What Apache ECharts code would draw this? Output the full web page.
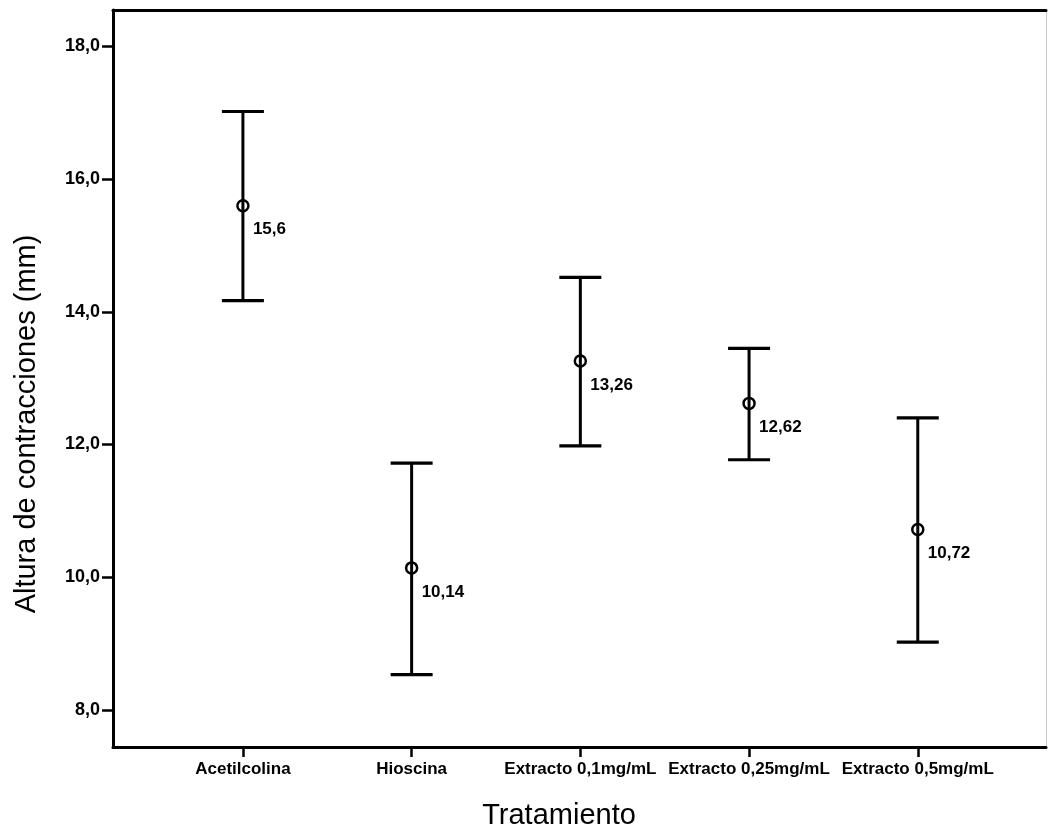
<!DOCTYPE html>
<html>
<head>
<meta charset="utf-8">
<script src="https://cdn.jsdelivr.net/npm/echarts@6/dist/echarts.min.js"></script>
<style>
  html, body { margin: 0; padding: 0; background: #ffffff; }
  #chart { width: 1048px; height: 833px; }
</style>
</head>
<body>
<div id="chart"></div>
<script>
// ---- data ----
const categories = ['Acetilcolina', 'Hioscina', 'Extracto 0,1mg/mL', 'Extracto 0,25mg/mL', 'Extracto 0,5mg/mL'];
const means = [15.6, 10.14, 13.26, 12.62, 10.72];
const lower = [14.17, 8.53, 11.98, 11.77, 9.02];
const upper = [17.02, 11.72, 14.52, 13.45, 12.40];
const yTicks = [8, 10, 12, 14, 16, 18];
const xTicks = [0, 1, 2, 3, 4];
const yTitle = 'Altura de contracciones (mm)';
const xTitle = 'Tratamiento';

const FONT = '"Liberation Sans", Arial, sans-serif';
const toComma = v => String(v).replace('.', ',');

const rows = categories.map((c, i) => [i, lower[i], upper[i], means[i]]);

const chart = echarts.init(document.getElementById('chart'), null, { renderer: 'canvas' });

chart.setOption({
  backgroundColor: '#ffffff',
  animation: false,
  grid: { left: 113, top: 10, right: 2, bottom: 86, containLabel: false },
  xAxis: [{
    type: 'value',
    min: -0.77,
    max: 4.76,
    splitLine: { show: false },
    axisLine: { show: true, onZero: false, lineStyle: { color: '#000', width: 3 } },
    axisTick: { show: true, customValues: xTicks, length: 10, inside: false, lineStyle: { color: '#000', width: 2.5 } },
    axisLabel: {
      show: true, customValues: xTicks, margin: 14,
      formatter: v => categories[Math.round(v)] || '',
      color: '#000', fontFamily: FONT, fontWeight: 'bold', fontSize: 17
    }
  }, {
    type: 'value',
    position: 'top',
    min: -0.77,
    max: 4.76,
    splitLine: { show: false },
    axisLine: { show: true, onZero: false, lineStyle: { color: '#000', width: 3 } },
    axisTick: { show: false },
    axisLabel: { show: false }
  }],
  yAxis: [{
    type: 'value',
    min: 7.44,
    max: 18.55,
    splitLine: { show: false },
    axisLine: { show: true, onZero: false, lineStyle: { color: '#000', width: 3 } },
    axisTick: { show: true, customValues: yTicks, length: 11, inside: false, lineStyle: { color: '#000', width: 2.5 } },
    axisLabel: {
      show: true, customValues: yTicks, margin: 13,
      formatter: v => Number(v).toFixed(1).replace('.', ','),
      color: '#000', fontFamily: FONT, fontWeight: 'bold', fontSize: 18
    }
  }, {
    type: 'value',
    position: 'right',
    min: 7.44,
    max: 18.55,
    splitLine: { show: false },
    axisLine: { show: true, onZero: false, lineStyle: { color: '#c8c8c8', width: 1 } },
    axisTick: { show: false },
    axisLabel: { show: false }
  }],
  graphic: [
    {
      type: 'text',
      x: 27, y: 424,
      rotation: Math.PI / 2,
      style: { text: yTitle, font: '29px ' + FONT, fill: '#000', textAlign: 'center', textVerticalAlign: 'middle' }
    },
    {
      type: 'text',
      x: 559, y: 816,
      style: { text: xTitle, font: '29px ' + FONT, fill: '#000', textAlign: 'center', textVerticalAlign: 'middle' }
    }
  ],
  series: [{
    type: 'custom',
    xAxisIndex: 0,
    yAxisIndex: 0,
    data: rows,
    encode: { x: 0, y: [1, 2, 3] },
    renderItem: function (params, api) {
      const i = api.value(0);
      const lo = api.coord([i, api.value(1)]);
      const hi = api.coord([i, api.value(2)]);
      const mid = api.coord([i, api.value(3)]);
      const cap = 21;
      return {
        type: 'group',
        children: [
          { type: 'line', shape: { x1: hi[0], y1: hi[1], x2: lo[0], y2: lo[1] }, style: { stroke: '#000', lineWidth: 3 } },
          { type: 'line', shape: { x1: hi[0] - cap, y1: hi[1], x2: hi[0] + cap, y2: hi[1] }, style: { stroke: '#000', lineWidth: 3.2 } },
          { type: 'line', shape: { x1: lo[0] - cap, y1: lo[1], x2: lo[0] + cap, y2: lo[1] }, style: { stroke: '#000', lineWidth: 3.2 } },
          { type: 'circle', shape: { cx: mid[0], cy: mid[1], r: 5.5 }, style: { stroke: '#000', fill: null, lineWidth: 2.5 } },
          { type: 'text', x: mid[0] + 10, y: mid[1] + 24,
            style: { text: toComma(api.value(3)), font: 'bold 17px ' + FONT, fill: '#000', textAlign: 'left', textVerticalAlign: 'middle' } }
        ]
      };
    }
  }]
});
</script>
</body>
</html>
